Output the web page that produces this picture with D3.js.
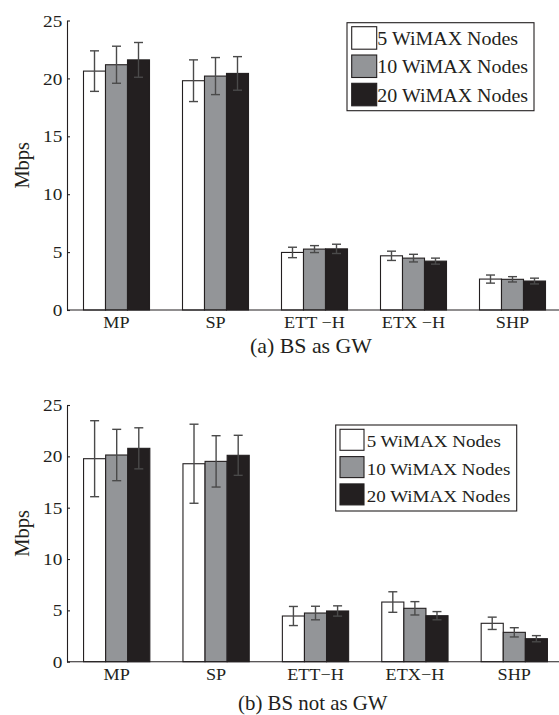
<!DOCTYPE html>
<html><head><meta charset="utf-8">
<script src="https://cdn.jsdelivr.net/npm/d3@7"></script>
<style>body{margin:0;background:#fff}svg{display:block}text{font-family:"Liberation Serif","Times New Roman",serif;fill:#231f20}</style>
</head><body>
<script>
const categories = ["MP","SP","ETT-H","ETX-H","SHP"];
const labelsA = ["MP","SP","ETT \u2212H","ETX \u2212H","SHP"];
const labelsB = ["MP","SP","ETT\u2212H","ETX\u2212H","SHP"];
const seriesNames = ["5 WiMAX Nodes","10 WiMAX Nodes","20 WiMAX Nodes"];
const yTicks = [0,5,10,15,20,25];

// (a) BS as GW
const a5 = [20.63,19.8,4.97,4.68,2.67];
const a10 = [21.18,20.2,5.26,4.48,2.65];
const a20 = [21.6,20.43,5.28,4.22,2.5];
const a5err = [1.75,1.8,0.45,0.4,0.35];
const a10err = [1.6,1.6,0.3,0.33,0.23];
const a20err = [1.5,1.45,0.4,0.26,0.25];

// (b) BS not as GW
const b5 = [19.77,19.28,4.45,5.81,3.74];
const b10 = [20.13,19.51,4.74,5.2,2.86];
const b20 = [20.78,20.1,4.94,4.48,2.24];
const b5err = [3.7,3.85,0.93,1.0,0.6];
const b10err = [2.5,2.5,0.66,0.65,0.45];
const b20err = [2.0,1.95,0.5,0.4,0.3];

const colors = ["#ffffff","#939598","#231f20"];
const W = 559, H = 715;
const svg = d3.select("body").append("svg").attr("width",W).attr("height",H);
const SERIF = "'Liberation Serif','Times New Roman',serif";

function panel(cfg){
  const g = svg.append("g");
  const x = d3.scaleBand().domain(categories).range([cfg.x0, cfg.x1]).paddingInner(1/3).paddingOuter(1/6);
  const xs = d3.scaleBand().domain([0,1,2]).range([0, x.bandwidth()]);
  const y = d3.scaleLinear().domain([0,25]).range([cfg.yb, cfg.yt]);
  const vals = cfg.vals, errs = cfg.errs;
  const data = [];
  categories.forEach((c,i)=>{ for(let s=0;s<3;s++) data.push({c, s, v: vals[s][i], e: errs[s][i]}); });

  g.selectAll("rect.bar").data(data).join("rect").attr("class","bar")
    .attr("x", d=>x(d.c)+xs(d.s)).attr("width", xs.bandwidth())
    .attr("y", d=>y(d.v)).attr("height", d=>y(0)-y(d.v))
    .attr("fill", d=>colors[d.s]).attr("stroke","#231f20").attr("stroke-width",1.1);

  const eb = g.selectAll("g.err").data(data).join("g").attr("class","err")
    .attr("stroke","#4a4a4a").attr("stroke-width",1.4);
  const cx = d=>x(d.c)+xs(d.s)+xs.bandwidth()/2;
  eb.append("line").attr("x1",cx).attr("x2",cx).attr("y1",d=>y(d.v+d.e)).attr("y2",d=>y(d.v-d.e));
  eb.append("line").attr("x1",d=>cx(d)-4.5).attr("x2",d=>cx(d)+4.5).attr("y1",d=>y(d.v+d.e)).attr("y2",d=>y(d.v+d.e));
  eb.append("line").attr("x1",d=>cx(d)-4.5).attr("x2",d=>cx(d)+4.5).attr("y1",d=>y(d.v-d.e)).attr("y2",d=>y(d.v-d.e));

  // y axis
  const ya = g.append("g").attr("transform",`translate(${cfg.x0},0)`)
    .call(d3.axisLeft(y).tickValues(yTicks).tickSizeInner(-3).tickSizeOuter(0).tickPadding(4.5));
  ya.selectAll("text").style("font-family",SERIF).style("font-size","17.5px").attr("fill","#231f20")
    .attr("transform","scale(1.1,1)").attr("x",-4.3);
  ya.selectAll("line, path").attr("stroke","#231f20").attr("stroke-width",1.1);

  // x axis
  const xa = g.append("g").attr("transform",`translate(0,${cfg.yb})`)
    .call(d3.axisBottom(x).tickSize(0).tickPadding(6).tickFormat((d,i)=>cfg.labels[i]));
  xa.select("path").remove();
  xa.selectAll("text").style("font-family",SERIF).style("font-size","17px").attr("fill","#231f20")
    .attr("transform","scale(1.07,1)");
  g.append("line").attr("x1",cfg.x0).attr("x2",W).attr("y1",cfg.yb).attr("y2",cfg.yb).attr("stroke","#231f20").attr("stroke-width",1.1);

  // y label
  g.append("text").attr("transform",`translate(${cfg.ylx},${(cfg.yb+cfg.yt)/2}) rotate(-90)`)
    .attr("text-anchor","middle").attr("dy","0.35em").style("font-size","20.5px").text("Mbps");

  // caption
  g.append("text").attr("x",cfg.capX).attr("y",cfg.capY).style("font-size","21px")
    .attr("textLength",cfg.capW).attr("lengthAdjust","spacingAndGlyphs").text(cfg.caption);

  // legend
  const L = cfg.leg;
  g.append("rect").attr("x",L.x).attr("y",L.y).attr("width",L.w).attr("height",L.h)
    .attr("fill","#fff").attr("stroke","#231f20").attr("stroke-width",1.1);
  seriesNames.forEach((n,s)=>{
    g.append("rect").attr("x",L.x+L.sx).attr("y",L.y+L.sy+s*L.step).attr("width",L.sw).attr("height",L.sh)
      .attr("fill",colors[s]).attr("stroke","#231f20").attr("stroke-width",1.1);
    g.append("text").attr("transform",`translate(${L.x+L.tx},${L.y+L.ty+s*L.step}) scale(${L.sc},1)`)
      .style("font-size",L.fs+"px").text(n);
  });
}

panel({x0:67, x1:562, yb:310, yt:20.5, vals:[a5,a10,a20], errs:[a5err,a10err,a20err], labels:labelsA,
  ylx:22, capX:250, capY:353, capW:122, caption:"(a) BS as GW",
  leg:{x:347,y:22.7,w:187,h:88,sx:4.7,sy:4,sw:25,sh:22.5,step:28.3,tx:30.3,ty:22.3,fs:18,sc:1.11}});
panel({x0:67, x1:564, yb:661.7, yt:405, vals:[b5,b10,b20], errs:[b5err,b10err,b20err], labels:labelsB,
  ylx:22, capX:238, capY:710, capW:149.5, caption:"(b) BS not as GW",
  leg:{x:335.7,y:425,w:181,h:86,sx:4.3,sy:4.3,sw:24,sh:21,step:27.3,tx:31,ty:22.3,fs:17,sc:1.12}});
</script>
</body></html>
